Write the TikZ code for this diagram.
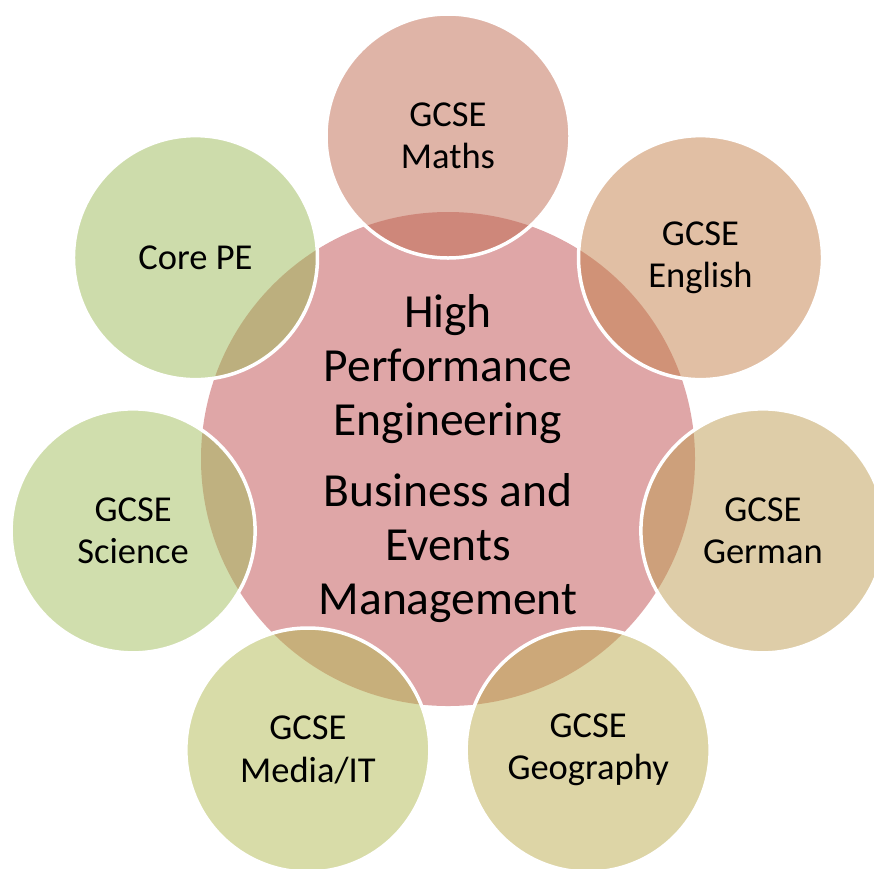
\documentclass[tikz,border=0pt]{standalone}
\usepackage{fontspec}
\setmainfont{Carlito}
\definecolor{hubfill}{RGB}{223,166,167}
\definecolor{cMaths}{RGB}{191,105,79}
\definecolor{cEnglish}{RGB}{195,127,73}
\definecolor{cGerman}{RGB}{189,155,81}
\definecolor{cGeography}{RGB}{187,171,77}
\definecolor{cMedia}{RGB}{177,185,81}
\definecolor{cScience}{RGB}{161,189,91}
\definecolor{cCore}{RGB}{155,185,87}
\begin{document}
\begin{tikzpicture}[x=1pt,y=-1pt,
  hub/.style={circle,fill=hubfill,minimum size=494pt,inner sep=0pt,align=center,
    font=\fontsize{47.5}{54}\selectfont},
  sat/.style={circle,fill=#1,fill opacity=0.5,text opacity=1,draw=white,draw opacity=1,
    line width=3.5pt,minimum size=244pt,inner sep=0pt,align=center,
    font=\fontsize{36.5}{42.5}\selectfont}]
\useasboundingbox (0,0) rectangle (874,868);
\def\R{323}
\node[hub] (hub) at (448,459) {High\\Performance\\Engineering\\[17pt]Business and\\Events\\Management};
\node[sat=cMaths] (maths) at ({448+\R*cos(90)},{459-\R*sin(90)}) {GCSE\\Maths};
\node[sat=cEnglish] (english) at ({448+\R*cos(38.571)},{459-\R*sin(38.571)}) {GCSE\\English};
\node[sat=cGerman] (german) at ({448+\R*cos(-12.857)},{459-\R*sin(-12.857)}) {GCSE\\German};
\node[sat=cGeography] (geography) at ({448+\R*cos(-64.286)},{459-\R*sin(-64.286)}) {GCSE\\Geography};
\node[sat=cMedia] (media) at ({448+\R*cos(-115.714)},{459-\R*sin(-115.714)}) {GCSE\\Media/IT};
\node[sat=cScience] (science) at ({448+\R*cos(-167.143)},{459-\R*sin(-167.143)}) {GCSE\\Science};
\node[sat=cCore] (core) at ({448+\R*cos(141.429)},{459-\R*sin(141.429)}) {Core PE};
\end{tikzpicture}
\end{document}
